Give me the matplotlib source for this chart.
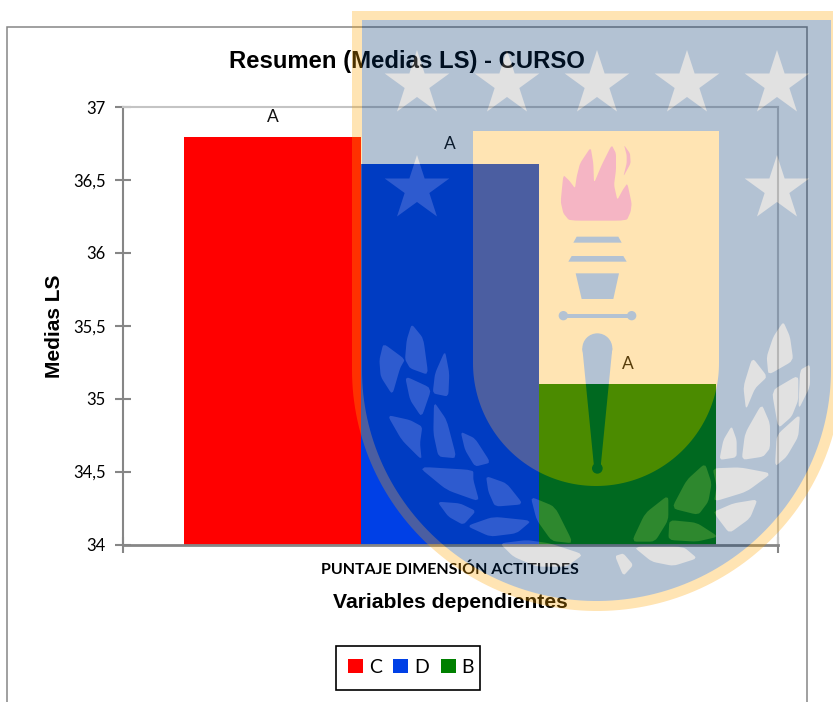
# Bar chart of LS means per CURSO, with the university shield watermark over it
import matplotlib
matplotlib.use('Agg')
import numpy as np
import matplotlib.pyplot as plt
from matplotlib.backends.backend_agg import FigureCanvasAgg
from matplotlib.figure import Figure
from matplotlib.patches import Polygon, Rectangle, Circle

W, H = 833, 702

groups = ['C', 'D', 'B']
medias = [36.795, 36.61, 35.1]
letters = ['A', 'A', 'A']
colors = ['#FF0000', '#0040E6', '#008000']
y_ticks = [34, 34.5, 35, 35.5, 36, 36.5, 37]
y_labels = ['34', '34,5', '35', '35,5', '36', '36,5', '37']
x_label = 'PUNTAJE DIMENSIÓN ACTITUDES'

FRAME = '#868686'
SOFT = '#C4C4C4'
SHIELD = '#00336E'
GOLD = '#FFA500'
STAR = '#9B9B9B'
FLAME = '#DE0739'

star_centers = [(417, 84), (507, 84), (597, 84), (687, 84), (777, 84), (417, 189), (777, 189)]

flame = [(118, 302), (100, 280), (92, 245), (100, 165), (118, 182), (135, 205), (140, 170), (150, 130),
         (182, 82), (190, 130), (192, 190), (215, 135), (245, 75), (258, 100), (258, 150), (252, 195),
         (262, 240), (278, 210), (292, 190), (305, 250), (302, 275), (290, 302)]
tongue = [(282, 75), (300, 100), (302, 130), (280, 170), (290, 130), (290, 105)]
band_a = [(140, 350), (265, 350), (275, 368), (130, 368)]
band_b = [(125, 408), (280, 408), (290, 425), (115, 425)]
cup = [(137, 460), (267, 460), (250, 537), (155, 537)]
bar_t = [(100, 581), (305, 581), (305, 593), (100, 593)]
handle = [(157, 685), (192, 1040), (212, 1040), (247, 685)]

leaves_left = [
    [(70, 100), (135, 148), (120, 175), (97, 255), (62, 200), (58, 150)],
    [(155, 42), (190, 85), (205, 195), (150, 175), (135, 148), (140, 90)],
    [(135, 198), (215, 235), (185, 322), (150, 270)],
    [(255, 122), (268, 190), (265, 260), (218, 250), (225, 190)],
    [(82, 315), (150, 330), (187, 350), (180, 400), (185, 450), (125, 390)],
    [(222, 275), (260, 330), (290, 445), (235, 440), (220, 370)],
    [(302, 365), (345, 385), (392, 458), (345, 470), (315, 420)],
    [(175, 470), (340, 480), (340, 510), (358, 575), (260, 540)],
    [(378, 498), (440, 520), (490, 583), (405, 590), (385, 545)],
    [(232, 575), (300, 580), (348, 603), (310, 645), (265, 620)],
    [(320, 648), (400, 620), (515, 632), (470, 670), (390, 680)],
    [(512, 560), (585, 590), (640, 700), (575, 693), (530, 630)],
    [(420, 700), (500, 690), (570, 700), (670, 733), (620, 770), (530, 770), (460, 740)],
]
leaves_right = [
    [(580, 5), (600, 50), (610, 122), (535, 165), (530, 110), (550, 50)],
    [(487, 112), (532, 170), (495, 205), (468, 270), (460, 200)],
    [(625, 165), (625, 240), (605, 290), (565, 325), (545, 212)],
    [(660, 133), (660, 200), (625, 270), (630, 150)],
    [(515, 252), (540, 310), (540, 385), (520, 410), (455, 420), (465, 340)],
    [(630, 282), (625, 350), (590, 410), (555, 440), (560, 345)],
    [(425, 318), (440, 360), (440, 412), (388, 420), (400, 360)],
    [(368, 445), (450, 442), (545, 460), (470, 515), (372, 545), (380, 500)],
    [(345, 430), (365, 490), (355, 545), (325, 585), (245, 565), (290, 480)],
    [(372, 575), (430, 550), (503, 538), (480, 595), (418, 640), (380, 590)],
    [(235, 525), (235, 600), (195, 665), (125, 665), (165, 580)],
    [(238, 600), (320, 608), (385, 650), (320, 665), (235, 660)],
    [(130, 680), (280, 680), (322, 715), (250, 738), (185, 725)],
    [(75, 708), (100, 700), (130, 735), (100, 768)],
]


def _u_shape(left, top, right, straight_to, bottom):
    # Straight top and sides, half ellipse below
    cx = (left + right) / 2
    a = (right - left) / 2
    b = bottom - straight_to
    th = np.linspace(0, np.pi, 120)
    pts = [(left, top), (right, top)]
    pts += [(cx + a * np.cos(t), straight_to + b * np.sin(t)) for t in th]
    return pts


def _star(cx, cy, r):
    th = np.pi / 2 + np.arange(10) * np.pi / 5
    rad = np.where(np.arange(10) % 2 == 0, r, r * 0.382)
    # the image y axis points down, so flip the sine
    return [(cx + q * np.cos(t), cy - q * np.sin(t)) for q, t in zip(rad, th)]


def _map(points, x0, y0):
    return [(x0 + x / 3, y0 + y / 3) for x, y in points]


def _soften(points, cut=0.12, rounds=2):
    # Corner cutting, takes the hard edges off the hand traced outlines
    pts = np.array(points, dtype=float)
    for _ in range(rounds):
        nxt = np.roll(pts, -1, axis=0)
        a = pts + (nxt - pts) * cut
        b = pts + (nxt - pts) * (1 - cut)
        pts = np.column_stack((a, b)).reshape(-1, 2)
    return pts


def _watermark():
    # Flat shapes go in a separate canvas so the alpha applies once to the whole crest
    wm = Figure(figsize=(W / 100, H / 100), dpi=100)
    wm.patch.set_alpha(0)
    canvas = FigureCanvasAgg(wm)
    ax = wm.add_axes([0, 0, 1, 1])
    ax.set_xlim(0, W)
    ax.set_ylim(H, 0)
    ax.axis('off')

    ax.add_patch(Polygon(_u_shape(352, 11, 842, 370, 611), fc=GOLD, lw=0))
    ax.add_patch(Polygon(_u_shape(362, 20, 831, 370, 601), fc=SHIELD, lw=0))
    ax.add_patch(Polygon(_u_shape(473, 131, 719, 363, 486), fc=GOLD, lw=0))
    for cx, cy in star_centers:
        ax.add_patch(Polygon(_star(cx, cy, 34), fc=STAR, lw=0))
    for leaf in leaves_left:
        ax.add_patch(Polygon(_soften(_map(leaf, 360, 310)), fc=STAR, lw=0))
    for leaf in leaves_right:
        ax.add_patch(Polygon(_soften(_map(leaf, 590, 320)), fc=STAR, lw=0))

    for shape in (flame, tongue):
        ax.add_patch(Polygon(_soften(_map(shape, 530, 120)), fc=FLAME, lw=0))
    for shape in (band_a, band_b, cup, bar_t, handle):
        ax.add_patch(Polygon(_map(shape, 530, 120), fc=SHIELD, lw=0))
    for cx, cy, r in [(100, 587, 14), (305, 587, 14), (202, 685, 45)]:
        ax.add_patch(Circle((530 + cx / 3, 120 + cy / 3), r / 3, fc=SHIELD, lw=0))
    ax.add_patch(Circle((530 + 202 / 3, 120 + 1045 / 3), 16 / 3, fc=SHIELD, lw=0))

    canvas.draw()
    return np.asarray(canvas.buffer_rgba()).copy()


def _main():
    plt.rcParams['font.family'] = ['Lato', 'DejaVu Sans']
    fig = plt.figure(figsize=(W / 100, H / 100), dpi=100)
    to_fig = lambda x, y: (x / W, 1 - y / H)

    # Outer chart frame, its bottom edge falls off the image
    x0, y0 = to_fig(6.5, 720)
    x1, y1 = to_fig(806.5, 26.5)
    fig.add_artist(Rectangle((x0, y0), x1 - x0, y1 - y0, transform=fig.transFigure,
                             fc='none', ec=FRAME, lw=1.1))

    ax = fig.add_axes([123 / W, (H - 544.5) / H, 654.6 / W, 437.5 / H])
    xs = np.arange(len(groups))
    bars = ax.bar(xs, medias, width=1.0, bottom=0, color=colors, linewidth=0)
    for bar, name in zip(bars, groups):
        bar.set_label(name)
    ax.set_ylim(34, 37)
    ax.set_xlim(-0.843, 2.846)

    ax.set_yticks(y_ticks)
    ax.set_yticklabels(y_labels, fontsize=12)
    ax.tick_params(axis='y', direction='inout', length=11, width=1.5, color=FRAME, pad=7)
    ax.set_xticks([1])
    ax.set_xticklabels([x_label], fontsize=11.5, fontweight='bold')
    ax.tick_params(axis='x', which='major', length=0, pad=13)
    ax.set_xticks(ax.get_xlim(), minor=True)
    ax.tick_params(axis='x', which='minor', direction='inout', length=12, width=1.5, color=FRAME)

    ax.spines['left'].set(color=FRAME, linewidth=1.5)
    ax.spines['bottom'].set(color=FRAME, linewidth=2)
    ax.spines['top'].set(color=SOFT, linewidth=1.5)
    ax.spines['right'].set(color=SOFT, linewidth=1.5)

    for x, val, letter in zip(xs, medias, letters):
        ax.annotate(letter, (x, val), xytext=(0, 14.5), textcoords='offset points',
                    ha='center', va='center', fontsize=12.5, color='#111111')

    arial = ['Liberation Sans', 'DejaVu Sans']
    fig.text(407 / W, 1 - 61.5 / H, 'Resumen (Medias LS) - CURSO', family=arial, fontweight='bold',
             fontsize=17.2, ha='center', va='center')
    fig.text(54 / W, 1 - 326 / H, 'Medias LS', family=arial, fontweight='bold', fontsize=15,
             rotation=90, ha='center', va='center')
    fig.text(450 / W, 1 - 602 / H, 'Variables dependientes', family=arial, fontweight='bold',
             fontsize=15.2, ha='center', va='center')

    # Box of the legend drawn apart, the padding in the original is not even on both sides
    bx0, by0 = to_fig(335.5, 690)
    bx1, by1 = to_fig(479.5, 645.5)
    fig.add_artist(Rectangle((bx0, by0), bx1 - bx0, by1 - by0, transform=fig.transFigure,
                             fc='white', ec='black', lw=1.2))
    fig.legend(handles=list(bars), loc='center', bbox_to_anchor=(411 / W, 1 - 667.5 / H),
               ncol=3, frameon=False, fontsize=14, handlelength=0.77, handleheight=0.77,
               handletextpad=0.3, columnspacing=0.6, borderpad=0, borderaxespad=0)

    over = fig.add_axes([0, 0, 1, 1], zorder=20)
    over.imshow(_watermark(), alpha=0.3, interpolation='nearest', aspect='auto')
    over.axis('off')

    fig.savefig('out.png', dpi=100)


if __name__ == '__main__':
    _main()
